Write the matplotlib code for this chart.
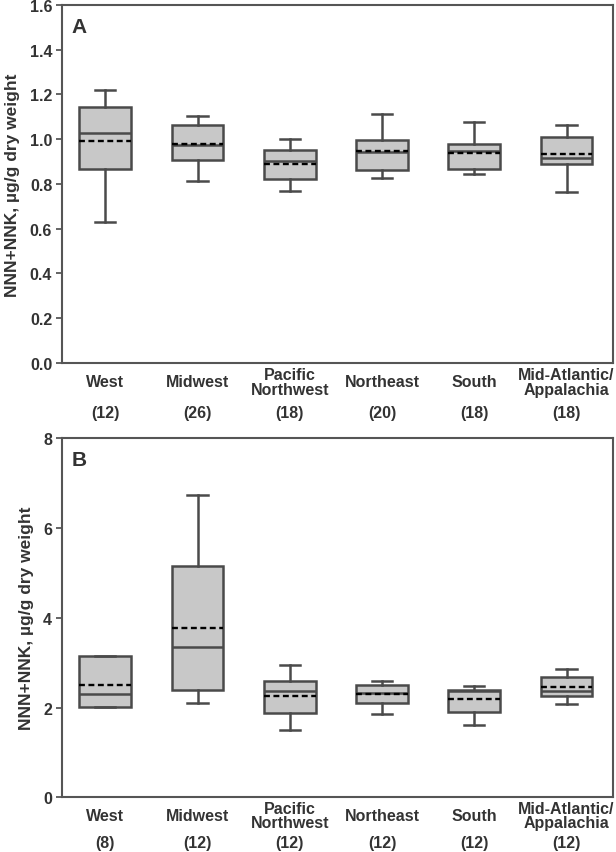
import matplotlib
matplotlib.use("Agg")
import matplotlib.pyplot as plt
import matplotlib.transforms as mtransforms

plt.rcParams["font.family"] = ["Liberation Sans", "DejaVu Sans"]
plt.rcParams["font.weight"] = "bold"

regions = ["West", "Midwest", "Pacific\nNorthwest", "Northeast", "South",
           "Mid-Atlantic/\nAppalachia"]

# panel A : NNN+NNK, ug/g dry weight
n_a = [12, 26, 18, 20, 18, 18]
whislo_a = [0.632, 0.812, 0.769, 0.827, 0.846, 0.766]
q1_a = [0.866, 0.909, 0.824, 0.864, 0.868, 0.888]
med_a = [1.026, 0.976, 0.904, 0.943, 0.946, 0.918]
mean_a = [0.992, 0.980, 0.889, 0.949, 0.940, 0.933]
q3_a = [1.146, 1.065, 0.952, 0.997, 0.979, 1.011]
whishi_a = [1.221, 1.105, 1.000, 1.114, 1.078, 1.062]

# panel B
n_b = [8, 12, 12, 12, 12, 12]
whislo_b = [2.02, 2.10, 1.51, 1.85, 1.61, 2.07]
q1_b = [2.02, 2.38, 1.87, 2.09, 1.91, 2.25]
med_b = [2.30, 3.35, 2.37, 2.33, 2.36, 2.36]
mean_b = [2.51, 3.77, 2.26, 2.29, 2.19, 2.45]
q3_b = [3.14, 5.16, 2.59, 2.51, 2.40, 2.68]
whishi_b = [3.14, 6.74, 2.94, 2.59, 2.48, 2.85]

EDGE = "#4a4a4a"
FILL = "#c8c8c8"
TXT = "#333333"


def draw_panel(ax, whislo, q1, med, mean, q3, whishi, counts, ylim, yticks,
               yfmt, letter, name_y, count_y):
    stats = []
    for i in range(len(regions)):
        stats.append(dict(whislo=whislo[i], q1=q1[i], med=med[i], mean=mean[i],
                          q3=q3[i], whishi=whishi[i], fliers=[]))
    pos = list(range(1, len(regions) + 1))
    ax.bxp(stats, positions=pos, widths=0.56, capwidths=0.22,
           showmeans=True, meanline=True, showfliers=False, patch_artist=True,
           boxprops=dict(facecolor=FILL, edgecolor=EDGE, linewidth=1.8),
           whiskerprops=dict(color=EDGE, linewidth=1.8),
           capprops=dict(color=EDGE, linewidth=1.8),
           medianprops=dict(color=EDGE, linewidth=1.8),
           meanprops=dict(color="black", linewidth=1.7, linestyle=(0, (2.5, 1.5))))

    ax.set_xlim(0.53, 6.5)
    ax.set_ylim(*ylim)
    ax.set_yticks(yticks)
    ax.set_yticklabels([yfmt.format(v) for v in yticks])
    ax.set_xticks([])
    ax.tick_params(axis="y", direction="out", length=4, width=1.2, colors=EDGE,
                   labelsize=11.5, labelcolor=TXT, pad=3)
    for s in ax.spines.values():
        s.set_color("#555555")
        s.set_linewidth(1.5)
    ax.set_ylabel("NNN+NNK, µg/g dry weight", fontsize=12.5, fontweight="bold",
                  color=TXT, labelpad=7)

    trans = mtransforms.blended_transform_factory(ax.transData, ax.transAxes)
    for p, name, n in zip(pos, regions, counts):
        ax.text(p, name_y, name, transform=trans, ha="center", va="center",
                fontsize=11.5, fontweight="bold", color=TXT, linespacing=0.95)
        ax.text(p, count_y, f"({n})", transform=trans, ha="center", va="center",
                fontsize=11.5, fontweight="bold", color=TXT)
    ax.text(0.018, 0.94, letter, transform=ax.transAxes, ha="left", va="center",
            fontsize=15, fontweight="bold", color=TXT)


fig = plt.figure(figsize=(6.16, 8.53), dpi=100)
ax_a = fig.add_axes([0.1006, 0.5733, 0.894, 0.4197])
ax_b = fig.add_axes([0.1006, 0.0641, 0.894, 0.4212])

draw_panel(ax_a, whislo_a, q1_a, med_a, mean_a, q3_a, whishi_a, n_a,
           (0, 1.6), [0, 0.2, 0.4, 0.6, 0.8, 1.0, 1.2, 1.4, 1.6], "{:.1f}", "A",
           -0.053, -0.137)
draw_panel(ax_b, whislo_b, q1_b, med_b, mean_b, q3_b, whishi_b, n_b,
           (0, 8), [0, 2, 4, 6, 8], "{:.0f}", "B",
           -0.051, -0.126)

fig.savefig("out.png", dpi=100)
